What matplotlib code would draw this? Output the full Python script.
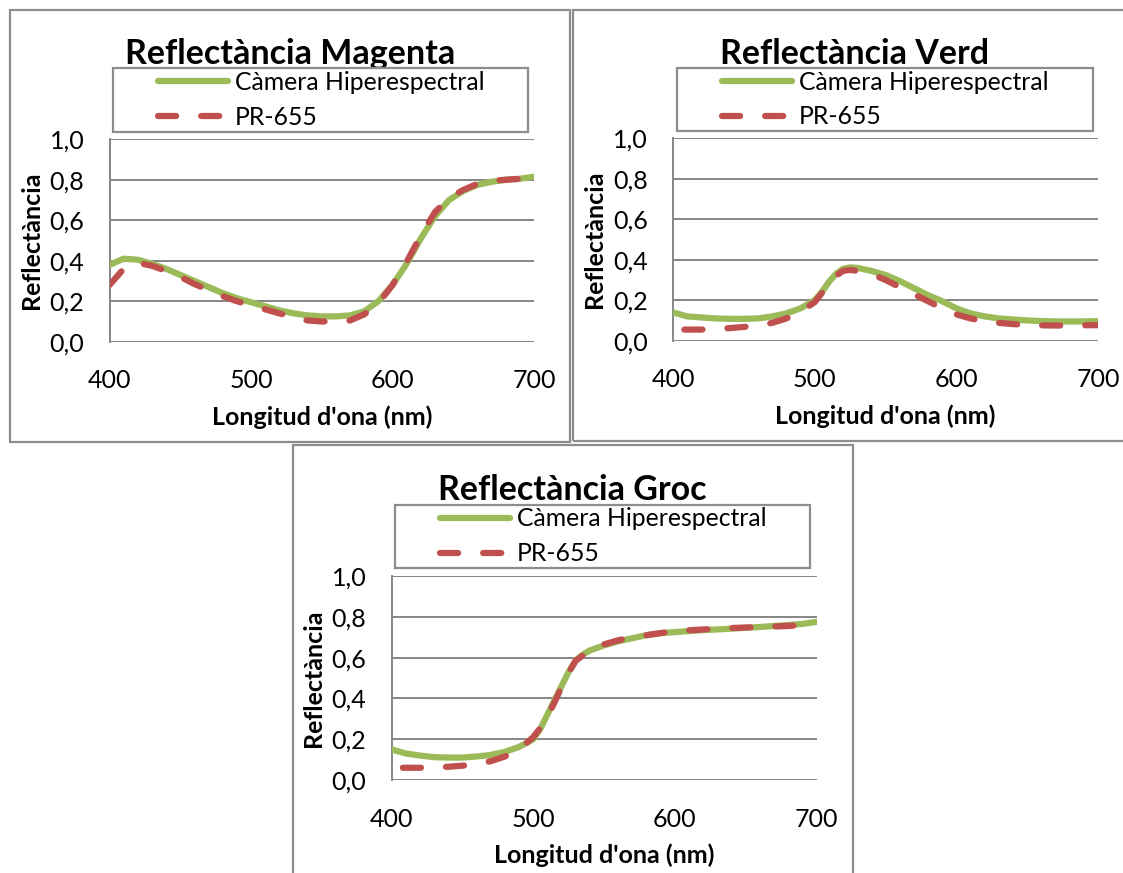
"""Reflectance spectra: hyperspectral camera vs PR-655 for three colour patches."""

import matplotlib
matplotlib.use("Agg")
import matplotlib.pyplot as plt
from matplotlib.patches import Rectangle
from matplotlib.lines import Line2D

plt.rcParams['font.family'] = ['Lato', 'DejaVu Sans']

W, H = 1123, 873

GREEN = '#9BBB59'
RED = '#C0504D'
GRID = '#868686'
FRAME = '#8C8C8C'

# ---- data -------------------------------------------------------------
wl_magenta_cam = [400, 410, 420, 430, 440, 450, 460, 470, 480, 490, 500, 510,
                  520, 530, 540, 550, 560, 570, 580, 590, 600, 610, 620, 630,
                  640, 650, 660, 670, 680, 690, 700]
refl_magenta_cam = [0.38, 0.41, 0.405, 0.385, 0.36, 0.33, 0.30, 0.27, 0.24,
                    0.215, 0.195, 0.175, 0.155, 0.14, 0.13, 0.125, 0.125, 0.13,
                    0.15, 0.20, 0.28, 0.385, 0.51, 0.62, 0.70, 0.745, 0.775,
                    0.79, 0.80, 0.805, 0.815]
wl_magenta_pr = [400, 410, 420, 430, 440, 450, 460, 470, 480, 490, 500, 510,
                 520, 530, 540, 550, 560, 570, 580, 590, 600, 610, 620, 630,
                 640, 650, 660, 670, 680, 690, 700]
refl_magenta_pr = [0.28, 0.36, 0.39, 0.375, 0.35, 0.32, 0.285, 0.255, 0.225,
                   0.20, 0.18, 0.16, 0.14, 0.12, 0.105, 0.10, 0.10, 0.105,
                   0.135, 0.19, 0.28, 0.395, 0.525, 0.64, 0.71, 0.75, 0.78,
                   0.795, 0.80, 0.805, 0.81]

wl_verd_cam = [400, 410, 420, 430, 440, 450, 460, 470, 480, 490, 500, 505, 510,
               515, 520, 525, 530, 540, 550, 560, 570, 580, 590, 600, 610, 620,
               630, 640, 650, 660, 670, 680, 690, 700]
refl_verd_cam = [0.14, 0.12, 0.115, 0.11, 0.108, 0.108, 0.11, 0.12, 0.135,
                 0.16, 0.20, 0.24, 0.29, 0.33, 0.355, 0.362, 0.36, 0.345,
                 0.325, 0.295, 0.26, 0.225, 0.195, 0.16, 0.135, 0.12, 0.11,
                 0.105, 0.10, 0.097, 0.095, 0.095, 0.095, 0.097]
wl_verd_pr = [408, 420, 430, 440, 450, 460, 470, 480, 490, 500, 505, 510, 515,
              520, 525, 530, 540, 550, 560, 570, 580, 590, 600, 610, 620, 630,
              640, 650, 660, 670, 680, 690, 700]
refl_verd_pr = [0.055, 0.055, 0.058, 0.062, 0.068, 0.075, 0.088, 0.11, 0.145,
                0.19, 0.235, 0.28, 0.32, 0.345, 0.35, 0.345, 0.33, 0.30,
                0.265, 0.23, 0.195, 0.16, 0.13, 0.11, 0.095, 0.088, 0.082,
                0.078, 0.076, 0.075, 0.075, 0.076, 0.077]

wl_groc_cam = [400, 410, 420, 430, 440, 450, 460, 470, 480, 490, 495, 500, 505,
               510, 515, 520, 525, 530, 535, 540, 550, 560, 570, 580, 590, 600,
               610, 620, 630, 640, 650, 660, 670, 680, 690, 700]
refl_groc_cam = [0.15, 0.13, 0.12, 0.112, 0.11, 0.11, 0.115, 0.123, 0.138,
                 0.162, 0.18, 0.20, 0.25, 0.32, 0.39, 0.46, 0.53, 0.585,
                 0.615, 0.635, 0.66, 0.68, 0.695, 0.71, 0.72, 0.725, 0.73,
                 0.735, 0.738, 0.742, 0.746, 0.75, 0.755, 0.76, 0.765, 0.775]
wl_groc_pr = [408, 420, 430, 440, 450, 460, 470, 480, 490, 500, 505, 510, 515,
              520, 525, 530, 540, 550, 560, 570, 580, 590, 600, 620, 640, 660,
              680, 690, 700]
refl_groc_pr = [0.06, 0.06, 0.062, 0.065, 0.07, 0.08, 0.092, 0.115, 0.15,
                0.21, 0.255, 0.31, 0.38, 0.455, 0.525, 0.585, 0.635, 0.665,
                0.685, 0.70, 0.71, 0.72, 0.73, 0.738, 0.745, 0.75, 0.755,
                0.76, 0.775]

x_ticks = [400, 500, 600, 700]
y_ticks = [0.0, 0.2, 0.4, 0.6, 0.8, 1.0]
y_tick_labels = ['0,0', '0,2', '0,4', '0,6', '0,8', '1,0']

series_names = ['Càmera Hiperespectral', 'PR-655']


def px_rect(x0, y0, x1, y1):
    """Pixel box (top-left origin) -> figure fraction [l, b, w, h]."""
    return [x0 / W, 1 - y1 / H, (x1 - x0) / W, (y1 - y0) / H]


panels = [
    dict(title='Reflectància Magenta', cam=(wl_magenta_cam, refl_magenta_cam),
         pr=(wl_magenta_pr, refl_magenta_pr),
         frame=(10, 10, 570, 442), axes=(109.5, 139.3, 534, 341.7),
         legend=(113, 68, 528, 131.5), title_xy=(290.5, 64)),
    dict(title='Reflectància Verd', cam=(wl_verd_cam, refl_verd_cam),
         pr=(wl_verd_pr, refl_verd_pr),
         frame=(573, 10, 1130, 441), axes=(673, 138.3, 1098, 340.7),
         legend=(677, 68, 1093, 131), title_xy=(854.5, 64)),
    dict(title='Reflectància Groc', cam=(wl_groc_cam, refl_groc_cam),
         pr=(wl_groc_pr, refl_groc_pr),
         frame=(292.5, 445, 853, 880), axes=(391.5, 576, 816.5, 780),
         legend=(395, 504.5, 810, 568), title_xy=(572.5, 500)),
]

fig = plt.figure(figsize=(W / 100, H / 100), dpi=100)
fig.patch.set_facecolor('white')

LW = 4.5
DASH = (2.9, 4.0)

for p in panels:
    fx0, fy0, fx1, fy1 = p['frame']
    fig.patches.append(Rectangle((fx0 / W, 1 - fy1 / H), (fx1 - fx0) / W,
                                 (fy1 - fy0) / H, transform=fig.transFigure,
                                 fill=False, edgecolor=FRAME, lw=1.6, zorder=1))

    ax = fig.add_axes(px_rect(*p['axes']))
    ax.plot(*p['cam'], color=GREEN, lw=LW, solid_capstyle='round',
            solid_joinstyle='round', zorder=3)
    ax.plot(*p['pr'], color=RED, lw=LW, dashes=DASH, dash_capstyle='round',
            dash_joinstyle='round', zorder=4)

    ax.set_xlim(400, 700)
    ax.set_ylim(0, 1)
    ax.set_xticks(x_ticks)
    ax.set_yticks(y_ticks)
    ax.set_yticklabels(y_tick_labels)
    ax.tick_params(length=0, labelsize=18, labelcolor='black')
    ax.tick_params(axis='y', pad=18)
    ax.tick_params(axis='x', pad=20)
    ax.grid(axis='y', color=GRID, lw=1.4)
    ax.set_axisbelow(True)
    for s in ['top', 'right', 'bottom']:
        ax.spines[s].set_visible(False)
    ax.spines['left'].set_color(GRID)
    ax.spines['left'].set_linewidth(1.4)
    ax.set_xlabel("Longitud d'ona (nm)", fontsize=18, fontweight='bold',
                  labelpad=9)
    ax.set_ylabel('Reflectància', fontsize=18, fontweight='bold', labelpad=5)

    tx, ty = p['title_xy']
    fig.text(tx / W, 1 - ty / H, p['title'], ha='center', va='baseline',
             fontsize=24.5, fontweight='bold', zorder=3)

    lx0, ly0, lx1, ly1 = p['legend']
    fig.patches.append(Rectangle((lx0 / W, 1 - ly1 / H), (lx1 - lx0) / W,
                                 (ly1 - ly0) / H, transform=fig.transFigure,
                                 facecolor='white', edgecolor=FRAME, lw=1.6,
                                 zorder=3.5))
    handles = [Line2D([], [], color=GREEN, lw=LW, solid_capstyle='round'),
               Line2D([], [], color=RED, lw=LW, dashes=DASH,
                      dash_capstyle='round')]
    fig.legend(handles, series_names, loc='center left',
               bbox_to_anchor=((lx0 + 45) / W, 1 - ((ly0 + ly1) / 2) / H),
               frameon=False, fontsize=17.8, handlelength=2.85,
               handletextpad=0.25, borderpad=0, borderaxespad=0,
               labelspacing=0.48)

fig.savefig('out.png', dpi=100, facecolor='white')
